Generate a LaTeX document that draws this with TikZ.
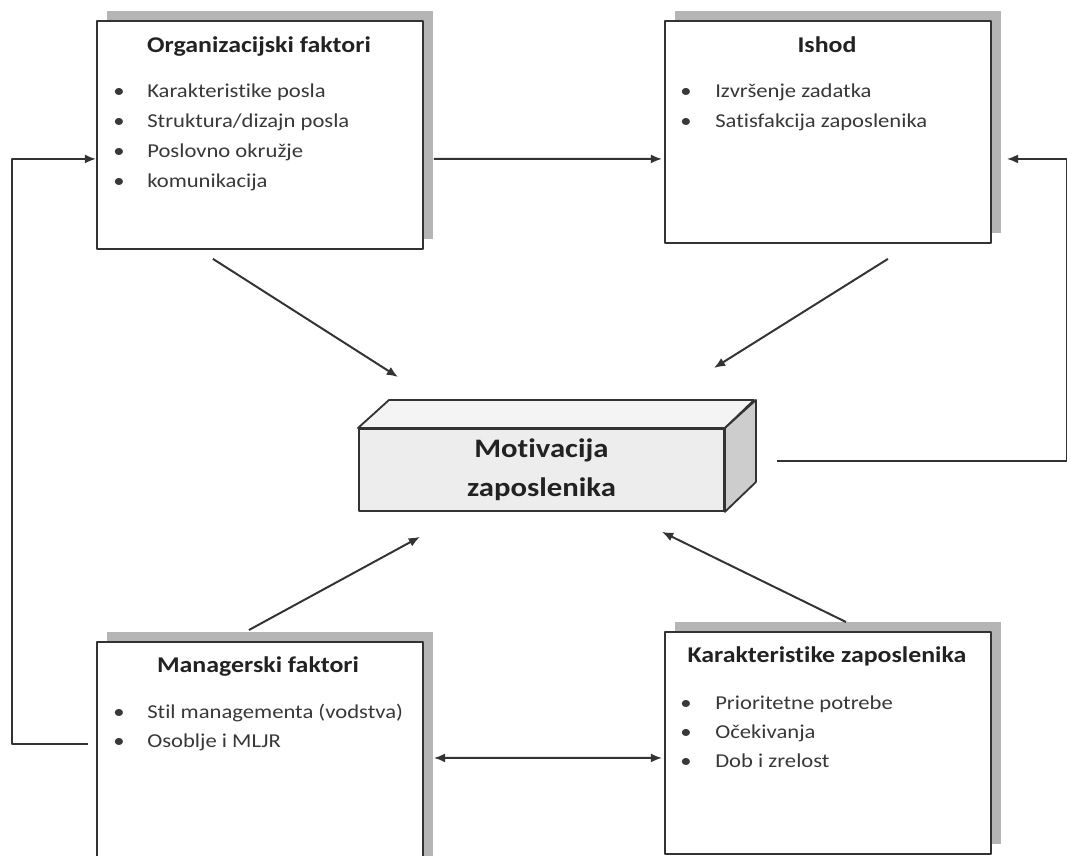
\documentclass[tikz,border=0pt]{standalone}
\usepackage{fontspec}
\setmainfont{Carlito}[FakeStretch=1.15, Ligatures=NoCommon]
\usetikzlibrary{positioning, arrows.meta, shadows}

\definecolor{framegray}{HTML}{333333}
\definecolor{shadowgray}{HTML}{B5B5B5}
\definecolor{titlegray}{HTML}{222222}
\definecolor{itemgray}{HTML}{383838}
\definecolor{frontgray}{HTML}{EDEDED}
\definecolor{topgray}{HTML}{F4F4F4}
\definecolor{sidegray}{HTML}{CDCDCD}

\begin{document}
\begin{tikzpicture}[x=0.025cm, y=-0.025cm, >={Latex[length=8pt, width=6.5pt]}, line join=round,
    factor/.style={draw=framegray, line width=1.3pt, fill=white, anchor=north west, inner sep=0pt,
      minimum width=8.15cm, general shadow={fill=shadowgray, shadow xshift=0.25cm, shadow yshift=0.25cm}},
    front/.style={draw=framegray, line width=1.3pt, fill=frontgray, anchor=north west, inner sep=0pt,
      minimum width=9.125cm, minimum height=2.05cm, align=center, text=titlegray,
      font=\fontsize{19}{27.5}\selectfont\bfseries},
    heading/.style={anchor=base, inner sep=0pt, text=titlegray, font=\fontsize{16}{19}\selectfont\bfseries},
    entry/.style={anchor=base west, inner sep=0pt, text=itemgray, font=\fontsize{14}{17}\selectfont},
    link/.style={->, draw=framegray, line width=1.4pt}]

  \useasboundingbox (0,0) rectangle (1067,856);
  \clip (0,0) rectangle (1067,856);

  \node[factor, minimum height=5.7cm] (org) at (96,20) {};
  \node[factor, minimum height=5.55cm] (ishod) at (664,20) {};
  \node[factor, minimum height=6cm] (mgr) at (96,641) {};
  \node[factor, minimum height=5.55cm] (kar) at (664,631) {};

  \node[front] (mot) at (358,428) {Motivacija\\zaposlenika};
  \draw[draw=framegray, line width=1.3pt, fill=topgray] (mot.north west) -- ++(31,-28) -- ++(365,0) -- (mot.north east) -- cycle;
  \draw[draw=framegray, line width=1.3pt, fill=sidegray] (mot.north east) -- ++(31,-28) -- ++(0,82) -- (mot.south east) -- cycle;

  \node[heading] (org-h) at (259,52) {Organizacijski faktori};
  \node[heading] (ishod-h) at (827,52) {Ishod};
  \node[heading] (mgr-h) at (258,672) {Managerski faktori};
  \node[heading] (kar-h) at (827,662) {Karakteristike zaposlenika};

  \foreach \txt [count=\i] in {Karakteristike posla, Struktura/dizajn posla, Poslovno okružje, komunikacija} {
    \node[entry] (org-b\i) at (113,67+30*\i) {\textbullet};
    \node[entry] (org-t\i) at (147,67+30*\i) {\txt};
  }
  \foreach \txt [count=\i] in {Izvršenje zadatka, Satisfakcija zaposlenika} {
    \node[entry] (ishod-b\i) at (680,67+30*\i) {\textbullet};
    \node[entry] (ishod-t\i) at (715,67+30*\i) {\txt};
  }
  \foreach \txt [count=\i] in {Stil managementa (vodstva), Osoblje i MLJR} {
    \node[entry] (mgr-b\i) at (113,689+29*\i) {\textbullet};
    \node[entry] (mgr-t\i) at (147,689+29*\i) {\txt};
  }
  \foreach \txt [count=\i] in {Prioritetne potrebe, Očekivanja, Dob i zrelost} {
    \node[entry] (kar-b\i) at (680,680+29*\i) {\textbullet};
    \node[entry] (kar-t\i) at (715,680+29*\i) {\txt};
  }

  \draw[link] ([shift={(10,24)}]org.east) -- ([shift={(-2,27)}]ishod.west);
  \draw[link] ([shift={(52,-9)}]mot.east) -- ++(290,0) |- ([shift={(15,27)}]ishod.east);
  \draw[link] ([shift={(-8,-18)}]mgr.west) -- ++(-76,0) |- ([shift={(0,24)}]org.west);
  \draw[link] ([shift={(-47,9)}]org.south) -- ([shift={(40,-51)}]mot.north west);
  \draw[link] ([shift={(60,15)}]ishod.south) -- ([shift={(-11,-60)}]mot.north east);
  \draw[link] ([shift={(-11,-11)}]mgr.north) -- ([shift={(62,25)}]mot.south west);
  \draw[link] ([shift={(18,-9)}]kar.north) -- ([shift={(-63,20)}]mot.south east);
  \draw[link, <->] ([shift={(10,-4)}]mgr.east) -- ([shift={(-2,15)}]kar.west);
\end{tikzpicture}
\end{document}
